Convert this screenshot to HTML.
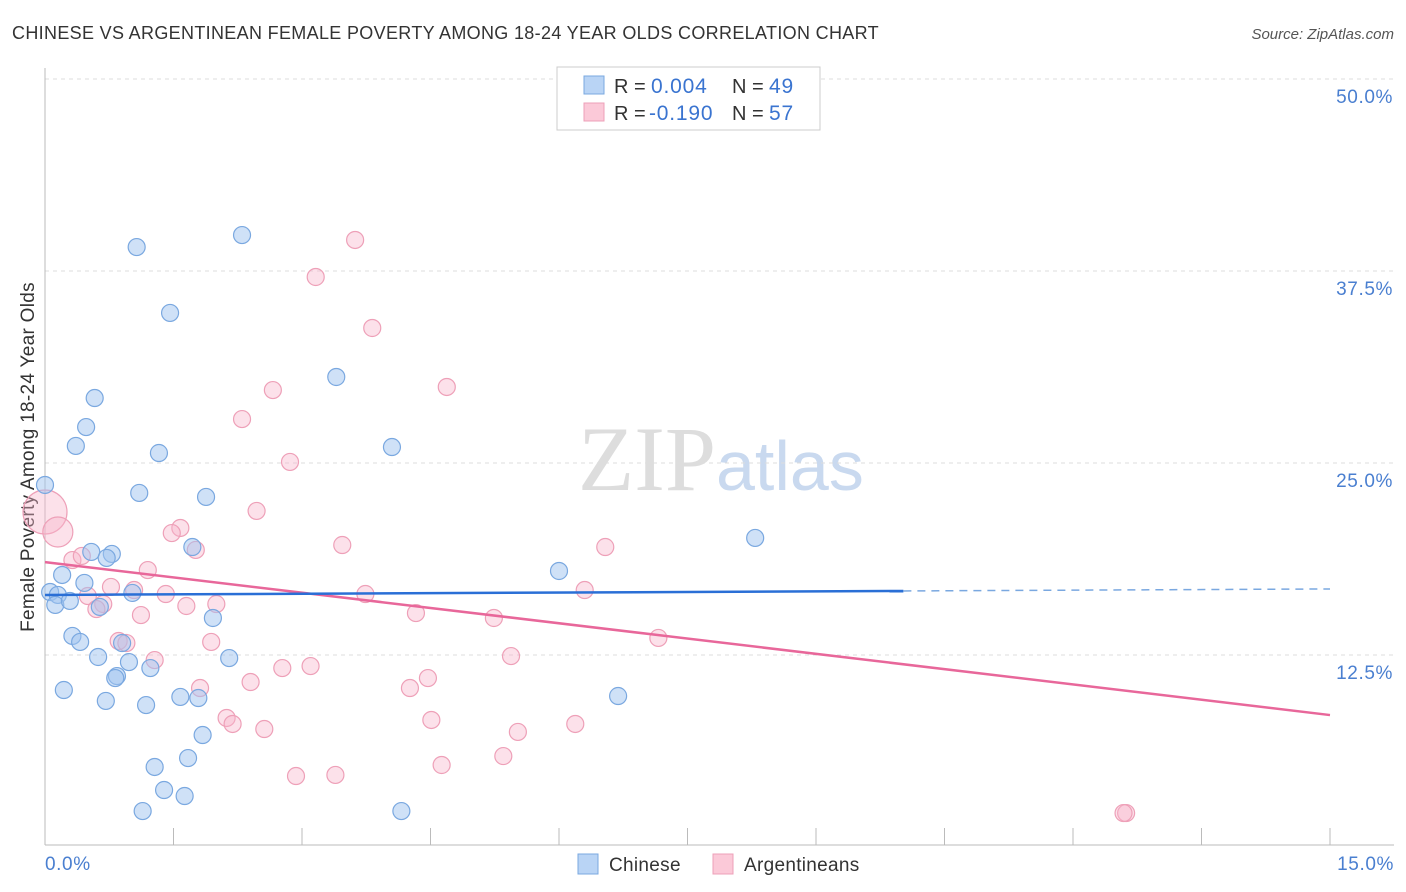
<!DOCTYPE html>
<html><head><meta charset="utf-8"><style>
body{margin:0;background:#fff;font-family:"Liberation Sans",sans-serif;}
#c{position:relative;width:1406px;height:892px;overflow:hidden;}
</style></head><body>
<div id="c">
<svg id="s" width="1406" height="892" xmlns="http://www.w3.org/2000/svg">
<text x="12" y="39" font-size="18" letter-spacing="0.33" fill="#333">CHINESE VS ARGENTINEAN FEMALE POVERTY AMONG 18-24 YEAR OLDS CORRELATION CHART</text>
<text x="1394" y="39" font-size="15" fill="#555" font-style="italic" text-anchor="end">Source: ZipAtlas.com</text>
<text x="34" y="457" font-size="19" letter-spacing="0.3" fill="#333" text-anchor="middle" transform="rotate(-90 34 457)">Female Poverty Among 18-24 Year Olds</text>
<text x="716" y="490" font-size="92" fill="#ddd" text-anchor="end" font-family="Liberation Serif">ZIP</text>
<text x="716" y="490" font-size="70" fill="#c9d9ef">atlas</text>
<g id="grid"></g><g id="marks"></g>
<g>
<rect x="557" y="67" width="263" height="63" fill="#fff" stroke="#ccc"/>
<rect x="584" y="76" width="20" height="18" fill="#b9d4f5" stroke="#7aa8e0"/>
<rect x="584" y="103" width="20" height="18" fill="#fbc9d8" stroke="#eea0b8"/>
<text x="614" y="93" font-size="20" fill="#333">R = <tspan x="651" fill="#3a74d0" font-size="21" letter-spacing="0.8">0.004</tspan></text>
<text x="732" y="93" font-size="20" fill="#333">N = <tspan x="769" fill="#3a74d0" font-size="21" letter-spacing="0.8">49</tspan></text>
<text x="614" y="120" font-size="20" fill="#333">R = <tspan x="649" fill="#3a74d0" font-size="21" letter-spacing="0.8">-0.190</tspan></text>
<text x="732" y="120" font-size="20" fill="#333">N = <tspan x="769" fill="#3a74d0" font-size="21" letter-spacing="0.8">57</tspan></text>
</g>
<g>
<rect x="578" y="854" width="20" height="20" fill="#b9d4f5" stroke="#7aa8e0"/>
<text x="609" y="871" font-size="19" letter-spacing="0.3" fill="#333">Chinese</text>
<rect x="713" y="854" width="20" height="20" fill="#fbc9d8" stroke="#eea0b8"/>
<text x="744" y="871" font-size="19" letter-spacing="0.3" fill="#333">Argentineans</text>
</g>
</svg></div>
<script>
const yTicks=[12.5,25.0,37.5,50.0];
const chineseX=[0,1.07,2.30,1.46,3.40,0.58,0.48,0.36,1.33,4.05,1.10,1.88,8.29,1.72,0.54,0.78,0.72,0.20,0.46,6.00,0.06,0.15,0.12,0.29,0.64,1.02,1.96,0.32,0.41,0.90,0.62,0.98,1.23,2.15,0.84,0.82,0.22,0.71,1.18,1.58,1.79,6.69,1.84,1.67,1.28,1.39,1.63,1.14,4.16];
const chineseY=[23.57,39.06,39.84,34.77,30.60,29.23,27.34,26.11,25.65,26.04,23.05,22.79,20.12,19.53,19.21,19.08,18.82,17.71,17.19,17.97,16.60,16.41,15.76,16.02,15.63,16.54,14.91,13.74,13.35,13.28,12.37,12.04,11.65,12.30,11.13,11.00,10.22,9.51,9.24,9.77,9.70,9.83,7.29,5.79,5.21,3.71,3.32,2.34,2.34];
const argX=[0,0.15,3.62,3.16,3.82,2.66,4.69,2.30,2.86,2.47,1.58,1.48,3.47,6.54,1.76,0.32,0.43,1.20,0.77,1.04,1.41,0.50,3.74,6.30,0.68,0.60,1.65,2.00,1.12,4.33,5.24,0.86,0.95,1.94,7.16,1.28,5.44,2.77,3.10,2.40,1.81,4.26,4.47,2.12,2.19,2.56,4.51,6.19,5.52,4.63,5.35,2.93,3.39,12.62,12.59];
const argY=[21.81,20.51,39.52,37.11,33.79,29.75,29.95,27.86,25.07,21.88,20.77,20.44,19.66,19.53,19.34,18.68,18.95,18.03,16.93,16.73,16.47,16.34,16.47,16.73,15.82,15.49,15.69,15.82,15.10,15.23,14.91,13.41,13.28,13.35,13.61,12.17,12.43,11.65,11.78,10.74,10.35,10.35,11.00,8.40,8.01,7.68,8.27,8.01,7.49,5.34,5.92,4.62,4.69,2.21,2.21];
const chineseTrend=[16.41,16.67,16.80];
const argTrend=[18.55,8.59];
const X=v=>45+v/15*1285, Y=v=>847-v*15.36;
const NS="http://www.w3.org/2000/svg";
function mk(t,a,p){const e=document.createElementNS(NS,t);for(const k in a)e.setAttribute(k,a[k]);p.appendChild(e);return e;}
const g=document.getElementById('grid'),m=document.getElementById('marks');
for(const t of yTicks){
 const l=mk('line',{x1:45,x2:1394,y1:Y(t),y2:Y(t),stroke:'#ddd','stroke-dasharray':'4,4'},g);
 
 
 const tx=mk('text',{x:1393,y:Y(t)+24,'font-size':19,'letter-spacing':0.6,fill:'#4a7fd0','text-anchor':'end'},g);tx.textContent=t.toFixed(1)+'%';
 
 
}
mk('line',{x1:45,x2:45,y1:68,y2:845,stroke:'#bbb'},g);
mk('line',{x1:45,x2:1394,y1:845,y2:845,stroke:'#bbb'},g);
for(let i=0;i<=10;i++){const l=mk('line',{x1:X(i*1.5),x2:X(i*1.5),y1:828,y2:845,stroke:'#bbb'},g);
 
 }
let a=mk('text',{x:45,y:870,'font-size':19,'letter-spacing':0.6,fill:'#4a7fd0'},g);a.textContent='0.0%';


a=mk('text',{x:1394,y:870,'font-size':19,'letter-spacing':0.6,fill:'#4a7fd0','text-anchor':'end'},g);a.textContent='15.0%';


argX.forEach((x,i)=>{const r=i==0?22:(i==1?15:8.5);const c=mk('circle',{cx:X(x),cy:Y(argY[i]),r:r,fill:'rgba(248,180,202,0.4)',stroke:'#eea0b8','stroke-width':1.2},m);
 
 });
chineseX.forEach((x,i)=>{const c=mk('circle',{cx:X(x),cy:Y(chineseY[i]),r:8.5,fill:'rgba(160,196,240,0.5)',stroke:'#7aa8e0','stroke-width':1.2},m);
 
 });
let l=mk('line',{x1:X(0),y1:Y(argTrend[0]),x2:X(15),y2:Y(argTrend[1]),stroke:'#e8679a','stroke-width':2.5},m);


l=mk('line',{x1:X(0),y1:Y(chineseTrend[0]),x2:X(10.02),y2:Y(chineseTrend[1]),stroke:'#2a6fd6','stroke-width':2.5},m);


l=mk('line',{x1:X(10.02),y1:Y(chineseTrend[1]),x2:X(15),y2:Y(chineseTrend[2]),stroke:'#7aa8e0','stroke-width':1.5,'stroke-dasharray':'8,6'},m);


</script>
</body></html>
